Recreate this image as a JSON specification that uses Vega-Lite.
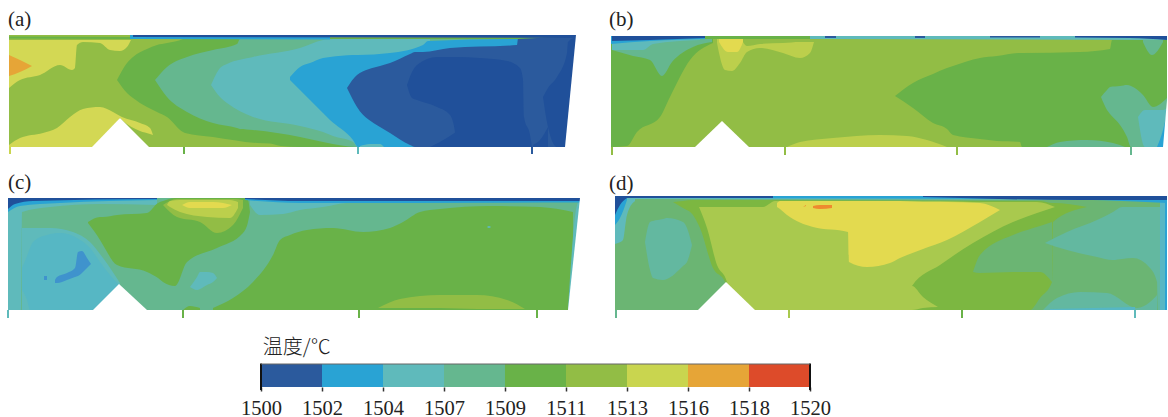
{"$schema":"https://vega.github.io/schema/vega-lite/v6.json","padding":0,"background":"white","config":{"view":{"stroke":null},"concat":{"spacing":0}},"spacing":0,
"datasets":{
"ticks":[{"p":"a","x":10,"y":147,"y2":154,"t":"1513"},{"p":"a","x":184,"y":147,"y2":154,"t":"1509"},{"p":"a","x":358,"y":147,"y2":154,"t":"1504"},{"p":"a","x":532,"y":147,"y2":154,"t":"1500"},{"p":"b","x":612,"y":147,"y2":155,"t":"1511"},{"p":"b","x":785,"y":147,"y2":155,"t":"1511"},{"p":"b","x":957,"y":147,"y2":155,"t":"1511"},{"p":"b","x":1131,"y":147,"y2":155,"t":"1507"},{"p":"c","x":8,"y":310,"y2":318,"t":"1504"},{"p":"c","x":183,"y":310,"y2":318,"t":"1509"},{"p":"c","x":359,"y":310,"y2":318,"t":"1509"},{"p":"c","x":537,"y":310,"y2":318,"t":"1509"},{"p":"d","x":616,"y":310,"y2":318,"t":"1507"},{"p":"d","x":789,"y":310,"y2":318,"t":"1511d"},{"p":"d","x":962,"y":310,"y2":318,"t":"1509"},{"p":"d","x":1135,"y":310,"y2":318,"t":"1504"}],
"legend":[{"i":0,"i2":1,"t":"1500","y":364,"y2":387},{"i":1,"i2":2,"t":"1502","y":364,"y2":387},{"i":2,"i2":3,"t":"1504","y":364,"y2":387},{"i":3,"i2":4,"t":"1507","y":364,"y2":387},{"i":4,"i2":5,"t":"1509","y":364,"y2":387},{"i":5,"i2":6,"t":"1511","y":364,"y2":387},{"i":6,"i2":7,"t":"1513","y":364,"y2":387},{"i":7,"i2":8,"t":"1516","y":364,"y2":387},{"i":8,"i2":9,"t":"1518","y":364,"y2":387}],
"a":[
{"s":1,"t":"1511","x":9,"y":35,"y2":147},{"s":1,"t":"1511","x":576,"y":35,"y2":147},
{"s":2,"t":"1513a","x":9,"y":40,"y2":88},{"s":2,"t":"1513a","x":20,"y":40,"y2":80},{"s":2,"t":"1513a","x":40,"y":40,"y2":75},{"s":2,"t":"1513a","x":60,"y":40,"y2":65},{"s":2,"t":"1513a","x":72,"y":40,"y2":70},{"s":2,"t":"1513a","x":75,"y":40,"y2":68},{"s":2,"t":"1513a","x":77,"y":40,"y2":45},{"s":2,"t":"1513a","x":83,"y":40,"y2":42},{"s":2,"t":"1513a","x":100,"y":40,"y2":43},{"s":2,"t":"1513a","x":110,"y":40,"y2":50},{"s":2,"t":"1513a","x":120,"y":40,"y2":51},{"s":2,"t":"1513a","x":127,"y":40,"y2":47},{"s":2,"t":"1513a","x":131,"y":40,"y2":40},
{"s":3,"t":"1516","x":9,"y":55,"y2":76},{"s":3,"t":"1516","x":20,"y":60,"y2":72},{"s":3,"t":"1516","x":32,"y":66,"y2":66},
{"s":4,"t":"1513a","x":9,"y":145,"y2":147},{"s":4,"t":"1513a","x":20,"y":138,"y2":147},{"s":4,"t":"1513a","x":43,"y":133,"y2":147},{"s":4,"t":"1513a","x":57,"y":128,"y2":147},{"s":4,"t":"1513a","x":70,"y":117,"y2":147},{"s":4,"t":"1513a","x":83,"y":109,"y2":147},{"s":4,"t":"1513a","x":100,"y":107,"y2":147},{"s":4,"t":"1513a","x":113,"y":112,"y2":147},{"s":4,"t":"1513a","x":120,"y":116,"y2":118},{"s":4,"t":"1513a","x":122,"y":117,"y2":120},{"s":4,"t":"1513a","x":140,"y":123,"y2":131},{"s":4,"t":"1513a","x":150,"y":128,"y2":134},{"s":4,"t":"1513a","x":153,"y":135,"y2":135},
{"s":5,"t":"1509","x":117,"y":80,"y2":80},{"s":5,"t":"1509","x":127,"y":63,"y2":93},{"s":5,"t":"1509","x":133,"y":57,"y2":98},{"s":5,"t":"1509","x":147,"y":49,"y2":107},{"s":5,"t":"1509","x":157,"y":45,"y2":112},{"s":5,"t":"1509","x":167,"y":43,"y2":117},{"s":5,"t":"1509","x":183,"y":39,"y2":132},{"s":5,"t":"1509","x":185,"y":38,"y2":133},{"s":5,"t":"1509","x":213,"y":38,"y2":137},{"s":5,"t":"1509","x":257,"y":38,"y2":143},{"s":5,"t":"1509","x":270,"y":38,"y2":143.5},{"s":5,"t":"1509","x":281,"y":38,"y2":146},{"s":5,"t":"1509","x":300,"y":38,"y2":147},{"s":5,"t":"1509","x":576,"y":38,"y2":147},
{"s":6,"t":"1507","x":155,"y":80,"y2":80},{"s":6,"t":"1507","x":167,"y":67,"y2":97},{"s":6,"t":"1507","x":187,"y":57,"y2":112},{"s":6,"t":"1507","x":213,"y":50,"y2":123},{"s":6,"t":"1507","x":237,"y":44,"y2":128},{"s":6,"t":"1507","x":240,"y":39,"y2":129},{"s":6,"t":"1507","x":253,"y":39,"y2":130},{"s":6,"t":"1507","x":300,"y":39,"y2":137},{"s":6,"t":"1507","x":323,"y":39,"y2":142},{"s":6,"t":"1507","x":357,"y":39,"y2":147},{"s":6,"t":"1507","x":576,"y":39,"y2":147},
{"s":7,"t":"1504","x":211,"y":85,"y2":85},{"s":7,"t":"1504","x":220,"y":68,"y2":97},{"s":7,"t":"1504","x":227,"y":64,"y2":103},{"s":7,"t":"1504","x":253,"y":57,"y2":117},{"s":7,"t":"1504","x":300,"y":48,"y2":126},{"s":7,"t":"1504","x":323,"y":40,"y2":132},{"s":7,"t":"1504","x":333,"y":39,"y2":136},{"s":7,"t":"1504","x":353,"y":39,"y2":142},{"s":7,"t":"1504","x":358,"y":39,"y2":147},{"s":7,"t":"1504","x":430,"y":39,"y2":147},
{"s":8,"t":"1502","x":290,"y":77,"y2":80},{"s":8,"t":"1502","x":300,"y":67,"y2":90},{"s":8,"t":"1502","x":310,"y":63,"y2":100},{"s":8,"t":"1502","x":323,"y":58,"y2":113},{"s":8,"t":"1502","x":330,"y":57,"y2":120},{"s":8,"t":"1502","x":353,"y":55,"y2":140},{"s":8,"t":"1502","x":358,"y":55,"y2":147},{"s":8,"t":"1502","x":390,"y":53,"y2":147},{"s":8,"t":"1502","x":423,"y":45,"y2":147},{"s":8,"t":"1502","x":428,"y":41,"y2":147},{"s":8,"t":"1502","x":517,"y":39,"y2":147},{"s":8,"t":"1502","x":520,"y":39,"y2":147},
{"s":9,"t":"1504","x":360,"y":146,"y2":147},{"s":9,"t":"1504","x":370,"y":144,"y2":147},{"s":9,"t":"1504","x":380,"y":144,"y2":147},{"s":9,"t":"1504","x":384,"y":147,"y2":147},
{"s":10,"t":"1500","x":347,"y":88,"y2":88},{"s":10,"t":"1500","x":357,"y":75,"y2":107},{"s":10,"t":"1500","x":380,"y":66,"y2":127},{"s":10,"t":"1500","x":390,"y":63,"y2":133},{"s":10,"t":"1500","x":410,"y":54,"y2":145},{"s":10,"t":"1500","x":415,"y":52,"y2":147},{"s":10,"t":"1500","x":423,"y":52,"y2":147},{"s":10,"t":"1500","x":450,"y":48,"y2":147},{"s":10,"t":"1500","x":517,"y":45,"y2":147},{"s":10,"t":"1500","x":518,"y":39,"y2":147},{"s":10,"t":"1500","x":576,"y":37,"y2":147},
{"s":11,"t":"deep","x":407,"y":85,"y2":85},{"s":11,"t":"deep","x":412,"y":72,"y2":98},{"s":11,"t":"deep","x":417,"y":65,"y2":100},{"s":11,"t":"deep","x":437,"y":57,"y2":107},{"s":11,"t":"deep","x":450,"y":57,"y2":115},{"s":11,"t":"deep","x":455,"y":57,"y2":132},{"s":11,"t":"deep","x":456,"y":57,"y2":147},{"s":11,"t":"deep","x":480,"y":58,"y2":147},{"s":11,"t":"deep","x":507,"y":61,"y2":147},{"s":11,"t":"deep","x":520,"y":68,"y2":147},{"s":11,"t":"deep","x":523,"y":80,"y2":147},{"s":11,"t":"deep","x":524,"y":117,"y2":147},{"s":11,"t":"deep","x":530,"y":135,"y2":147},{"s":11,"t":"deep","x":532,"y":147,"y2":147},
{"s":12,"t":"deep","x":430,"y":147,"y2":147},{"s":12,"t":"deep","x":440,"y":142,"y2":147},{"s":12,"t":"deep","x":456,"y":132,"y2":147},
{"s":13,"t":"deep","x":533,"y":145,"y2":147},{"s":13,"t":"deep","x":540,"y":140,"y2":147},{"s":13,"t":"deep","x":548,"y":127,"y2":147},
{"s":14,"t":"deep","x":543,"y":97,"y2":97},{"s":14,"t":"deep","x":548,"y":88,"y2":127},{"s":14,"t":"deep","x":557,"y":77,"y2":147},{"s":14,"t":"deep","x":567,"y":53,"y2":147},{"s":14,"t":"deep","x":568,"y":42,"y2":147},{"s":14,"t":"deep","x":576,"y":37,"y2":147},
{"s":15,"t":"1509","x":9,"y":36.5,"y2":38.5},{"s":15,"t":"1509","x":130,"y":37,"y2":39},
{"s":16,"t":"1502","x":130,"y":35,"y2":39},{"s":16,"t":"1502","x":330,"y":35,"y2":39.5},
{"s":17,"t":"deep","x":133,"y":35,"y2":37},{"s":17,"t":"deep","x":576,"y":35,"y2":38},
{"s":18,"t":"white","x":92,"y":147,"y2":147},{"s":18,"t":"white","x":120,"y":118,"y2":147},{"s":18,"t":"white","x":149,"y":147,"y2":147},
{"s":19,"t":"white","x":565,"y":147,"y2":147},{"s":19,"t":"white","x":576,"y":35,"y2":147},{"s":19,"t":"white","x":578,"y":35,"y2":147}],
"b":[
{"s":1,"t":"1511","x":611,"y":36,"y2":147},{"s":1,"t":"1511","x":1167,"y":36,"y2":147},
{"s":2,"t":"1509","x":611,"y":38,"y2":147},{"s":2,"t":"1509","x":627,"y":38,"y2":146},{"s":2,"t":"1509","x":637,"y":38,"y2":132},{"s":2,"t":"1509","x":660,"y":38,"y2":117},{"s":2,"t":"1509","x":670,"y":38,"y2":97},{"s":2,"t":"1509","x":690,"y":38,"y2":60},{"s":2,"t":"1509","x":713,"y":38,"y2":43},
{"s":3,"t":"1507","x":612,"y":39,"y2":50},{"s":3,"t":"1507","x":633,"y":39,"y2":56},{"s":3,"t":"1507","x":650,"y":39,"y2":60},{"s":3,"t":"1507","x":662,"y":39,"y2":76},{"s":3,"t":"1507","x":672,"y":39,"y2":62},{"s":3,"t":"1507","x":693,"y":39,"y2":47},{"s":3,"t":"1507","x":712,"y":39,"y2":42},
{"s":4,"t":"1504","x":612,"y":39,"y2":50},{"s":4,"t":"1504","x":643,"y":39,"y2":50},{"s":4,"t":"1504","x":653,"y":39,"y2":44},{"s":4,"t":"1504","x":700,"y":39,"y2":40},
{"s":5,"t":"1502","x":611,"y":36,"y2":44},{"s":5,"t":"1502","x":650,"y":36,"y2":41},{"s":5,"t":"1502","x":708,"y":36,"y2":39},
{"s":6,"t":"deep","x":612,"y":36,"y2":41},{"s":6,"t":"deep","x":650,"y":36,"y2":40},{"s":6,"t":"deep","x":705,"y":36,"y2":38},
{"s":7,"t":"1513b","x":717,"y":38,"y2":43},{"s":7,"t":"1513b","x":725,"y":38,"y2":70},{"s":7,"t":"1513b","x":732,"y":38,"y2":71},{"s":7,"t":"1513b","x":740,"y":39,"y2":63},{"s":7,"t":"1513b","x":747,"y":46,"y2":52},{"s":7,"t":"1513b","x":760,"y":44,"y2":48},{"s":7,"t":"1513b","x":783,"y":43,"y2":53},{"s":7,"t":"1513b","x":800,"y":42,"y2":58},{"s":7,"t":"1513b","x":810,"y":42,"y2":53},{"s":7,"t":"1513b","x":814,"y":42,"y2":42},
{"s":8,"t":"1513c","x":719,"y":38,"y2":42},{"s":8,"t":"1513c","x":728,"y":38,"y2":52},{"s":8,"t":"1513c","x":737,"y":38,"y2":52},{"s":8,"t":"1513c","x":743,"y":38,"y2":42},
{"s":9,"t":"1513b","x":787,"y":147,"y2":147},{"s":9,"t":"1513b","x":800,"y":142,"y2":147},{"s":9,"t":"1513b","x":833,"y":138,"y2":147},{"s":9,"t":"1513b","x":880,"y":135,"y2":147},{"s":9,"t":"1513b","x":907,"y":136,"y2":147},{"s":9,"t":"1513b","x":927,"y":140,"y2":147},{"s":9,"t":"1513b","x":947,"y":147,"y2":147},
{"s":10,"t":"1509","x":895,"y":96,"y2":96},{"s":10,"t":"1509","x":913,"y":83,"y2":108},{"s":10,"t":"1509","x":933,"y":74,"y2":123},{"s":10,"t":"1509","x":947,"y":68,"y2":129},{"s":10,"t":"1509","x":953,"y":66,"y2":135},{"s":10,"t":"1509","x":980,"y":58,"y2":139},{"s":10,"t":"1509","x":997,"y":56,"y2":141},{"s":10,"t":"1509","x":1020,"y":53,"y2":142},{"s":10,"t":"1509","x":1022,"y":53,"y2":147},{"s":10,"t":"1509","x":1080,"y":52,"y2":147},{"s":10,"t":"1509","x":1110,"y":49,"y2":147},{"s":10,"t":"1509","x":1112,"y":40,"y2":147},{"s":10,"t":"1509","x":1167,"y":40,"y2":147},
{"s":11,"t":"1507","x":1101,"y":97,"y2":97},{"s":11,"t":"1507","x":1107,"y":90,"y2":110},{"s":11,"t":"1507","x":1110,"y":87,"y2":114},{"s":11,"t":"1507","x":1120,"y":86,"y2":125},{"s":11,"t":"1507","x":1127,"y":85,"y2":137},{"s":11,"t":"1507","x":1131,"y":86,"y2":147},{"s":11,"t":"1507","x":1143,"y":95,"y2":147},{"s":11,"t":"1507","x":1153,"y":107,"y2":147},{"s":11,"t":"1507","x":1167,"y":98,"y2":147},
{"s":12,"t":"1507","x":1047,"y":147,"y2":147},{"s":12,"t":"1507","x":1060,"y":142,"y2":147},{"s":12,"t":"1507","x":1087,"y":140,"y2":147},{"s":12,"t":"1507","x":1113,"y":143,"y2":147},{"s":12,"t":"1507","x":1125,"y":147,"y2":147},
{"s":13,"t":"1507","x":1143,"y":40,"y2":42},{"s":13,"t":"1507","x":1152,"y":40,"y2":55},{"s":13,"t":"1507","x":1163,"y":40,"y2":42},
{"s":14,"t":"1504","x":1138,"y":117,"y2":117},{"s":14,"t":"1504","x":1145,"y":110,"y2":147},{"s":14,"t":"1504","x":1163,"y":110,"y2":147},{"s":14,"t":"1504","x":1167,"y":108,"y2":147},
{"s":15,"t":"1502","x":1157,"y":147,"y2":147},{"s":15,"t":"1502","x":1163,"y":130,"y2":147},{"s":15,"t":"1502","x":1167,"y":113,"y2":147},
{"s":16,"t":"1509","x":705,"y":36,"y2":39},{"s":16,"t":"1509","x":810,"y":36,"y2":39},
{"s":17,"t":"1504","x":810,"y":36,"y2":39},{"s":17,"t":"1504","x":1167,"y":36,"y2":40},
{"s":18,"t":"1500","x":825,"y":36,"y2":38},{"s":18,"t":"1500","x":836,"y":36,"y2":38},
{"s":19,"t":"1500","x":915,"y":36,"y2":38},{"s":19,"t":"1500","x":925,"y":36,"y2":38},
{"s":20,"t":"1500","x":990,"y":36,"y2":37.5},{"s":20,"t":"1500","x":1040,"y":36,"y2":37.5},
{"s":21,"t":"deep","x":1075,"y":36,"y2":37.5},{"s":21,"t":"deep","x":1130,"y":36,"y2":38},{"s":21,"t":"deep","x":1167,"y":36,"y2":40},
{"s":22,"t":"white","x":695,"y":147,"y2":147},{"s":22,"t":"white","x":722,"y":121,"y2":147},{"s":22,"t":"white","x":749,"y":147,"y2":147},
{"s":23,"t":"white","x":1163,"y":147,"y2":147},{"s":23,"t":"white","x":1167,"y":100,"y2":147},{"s":23,"t":"white","x":1168,"y":36,"y2":147}],
"c":[
{"s":1,"t":"1507","x":8,"y":198,"y2":310},{"s":1,"t":"1507","x":580,"y":198,"y2":310},
{"s":2,"t":"1504","x":8,"y":200,"y2":310},{"s":2,"t":"1504","x":21,"y":200,"y2":310},{"s":2,"t":"1504","x":22,"y":200,"y2":212},{"s":2,"t":"1504","x":50,"y":200,"y2":207},{"s":2,"t":"1504","x":100,"y":200,"y2":204},{"s":2,"t":"1504","x":157,"y":200,"y2":205},
{"s":3,"t":"1504","x":22,"y":228,"y2":310},{"s":3,"t":"1504","x":50,"y":228,"y2":310},{"s":3,"t":"1504","x":73,"y":232,"y2":310},{"s":3,"t":"1504","x":90,"y":242,"y2":310},{"s":3,"t":"1504","x":103,"y":258,"y2":310},{"s":3,"t":"1504","x":120,"y":283,"y2":310},
{"s":4,"t":"1504c","x":22,"y":268,"y2":290},{"s":4,"t":"1504c","x":27,"y":256,"y2":300},{"s":4,"t":"1504c","x":30,"y":248,"y2":310},{"s":4,"t":"1504c","x":33,"y":242,"y2":310},{"s":4,"t":"1504c","x":47,"y":235,"y2":310},{"s":4,"t":"1504c","x":60,"y":233,"y2":310},{"s":4,"t":"1504c","x":77,"y":238,"y2":310},{"s":4,"t":"1504c","x":90,"y":248,"y2":310},{"s":4,"t":"1504c","x":100,"y":262,"y2":310},{"s":4,"t":"1504c","x":110,"y":275,"y2":310},{"s":4,"t":"1504c","x":118,"y":284,"y2":310},
{"s":5,"t":"1502c","x":55,"y":280,"y2":283},{"s":5,"t":"1502c","x":57,"y":277,"y2":283},{"s":5,"t":"1502c","x":67,"y":273,"y2":280},{"s":5,"t":"1502c","x":75,"y":268,"y2":277},{"s":5,"t":"1502c","x":78,"y":252,"y2":276},{"s":5,"t":"1502c","x":82,"y":251,"y2":273},{"s":5,"t":"1502c","x":87,"y":258,"y2":268},{"s":5,"t":"1502c","x":91,"y":264,"y2":264},
{"s":6,"t":"1502c","x":44,"y":276,"y2":280},{"s":6,"t":"1502c","x":47,"y":276,"y2":280},
{"s":7,"t":"1509","x":88,"y":222,"y2":223},{"s":7,"t":"1509","x":100,"y":217,"y2":240},{"s":7,"t":"1509","x":103,"y":217,"y2":245},{"s":7,"t":"1509","x":117,"y":215,"y2":265},{"s":7,"t":"1509","x":147,"y":213,"y2":272},{"s":7,"t":"1509","x":158,"y":203,"y2":278},{"s":7,"t":"1509","x":163,"y":201,"y2":282},{"s":7,"t":"1509","x":175,"y":198,"y2":286},{"s":7,"t":"1509","x":187,"y":198,"y2":262},{"s":7,"t":"1509","x":217,"y":198,"y2":248},{"s":7,"t":"1509","x":243,"y":198,"y2":233},{"s":7,"t":"1509","x":248,"y":200,"y2":222},{"s":7,"t":"1509","x":250,"y":212,"y2":212},
{"s":8,"t":"1511","x":163,"y":205,"y2":205},{"s":8,"t":"1511","x":177,"y":199,"y2":217},{"s":8,"t":"1511","x":200,"y":199,"y2":222},{"s":8,"t":"1511","x":217,"y":199,"y2":233},{"s":8,"t":"1511","x":233,"y":199,"y2":225},{"s":8,"t":"1511","x":243,"y":200,"y2":208},
{"s":9,"t":"1513b","x":167,"y":205,"y2":205},{"s":9,"t":"1513b","x":170,"y":201,"y2":207},{"s":9,"t":"1513b","x":180,"y":200,"y2":212},{"s":9,"t":"1513b","x":207,"y":200,"y2":217},{"s":9,"t":"1513b","x":230,"y":200,"y2":218},{"s":9,"t":"1513b","x":238,"y":202,"y2":208},
{"s":10,"t":"1513c","x":182,"y":205,"y2":205},{"s":10,"t":"1513c","x":190,"y":202,"y2":208},{"s":10,"t":"1513c","x":213,"y":202,"y2":208},{"s":10,"t":"1513c","x":223,"y":203,"y2":208},{"s":10,"t":"1513c","x":232,"y":205,"y2":205},
{"s":11,"t":"1504","x":190,"y":287,"y2":287},{"s":11,"t":"1504","x":197,"y":277,"y2":290},{"s":11,"t":"1504","x":200,"y":272,"y2":289},{"s":11,"t":"1504","x":207,"y":272,"y2":285},{"s":11,"t":"1504","x":213,"y":273,"y2":282},{"s":11,"t":"1504","x":217,"y":278,"y2":278},
{"s":12,"t":"1504","x":250,"y":200,"y2":205},{"s":12,"t":"1504","x":260,"y":200,"y2":215},{"s":12,"t":"1504","x":283,"y":200,"y2":214},{"s":12,"t":"1504","x":300,"y":200,"y2":210},{"s":12,"t":"1504","x":323,"y":200,"y2":207},{"s":12,"t":"1504","x":347,"y":200,"y2":203},{"s":12,"t":"1504","x":390,"y":200,"y2":202},{"s":12,"t":"1504","x":580,"y":200,"y2":201},
{"s":13,"t":"1509","x":213,"y":308,"y2":310},{"s":13,"t":"1509","x":233,"y":298,"y2":310},{"s":13,"t":"1509","x":253,"y":282,"y2":310},{"s":13,"t":"1509","x":273,"y":255,"y2":310},{"s":13,"t":"1509","x":280,"y":240,"y2":310},{"s":13,"t":"1509","x":290,"y":235,"y2":310},{"s":13,"t":"1509","x":307,"y":230,"y2":310},{"s":13,"t":"1509","x":333,"y":228,"y2":310},{"s":13,"t":"1509","x":363,"y":232,"y2":310},{"s":13,"t":"1509","x":390,"y":228,"y2":310},{"s":13,"t":"1509","x":403,"y":222,"y2":310},{"s":13,"t":"1509","x":420,"y":212,"y2":310},{"s":13,"t":"1509","x":440,"y":209,"y2":310},{"s":13,"t":"1509","x":490,"y":206,"y2":310},{"s":13,"t":"1509","x":540,"y":207,"y2":310},{"s":13,"t":"1509","x":573,"y":212,"y2":310},
{"s":14,"t":"1511","x":378,"y":308,"y2":308},{"s":14,"t":"1511","x":400,"y":299,"y2":308},{"s":14,"t":"1511","x":440,"y":295,"y2":308},{"s":14,"t":"1511","x":477,"y":295,"y2":309},{"s":14,"t":"1511","x":507,"y":300,"y2":309},{"s":14,"t":"1511","x":525,"y":309,"y2":309},
{"s":15,"t":"1509","x":183,"y":310,"y2":310},{"s":15,"t":"1509","x":190,"y":306,"y2":310},{"s":15,"t":"1509","x":200,"y":308,"y2":310},
{"s":16,"t":"1504","x":487,"y":227,"y2":227},{"s":16,"t":"1504","x":489,"y":226,"y2":228},{"s":16,"t":"1504","x":491,"y":227,"y2":227},
{"s":17,"t":"1504","x":568,"y":310,"y2":310},{"s":17,"t":"1504","x":572,"y":250,"y2":310},{"s":17,"t":"1504","x":577,"y":205,"y2":310},{"s":17,"t":"1504","x":580,"y":200,"y2":310},
{"s":18,"t":"1502","x":8,"y":198,"y2":212},{"s":18,"t":"1502","x":20,"y":198,"y2":206},{"s":18,"t":"1502","x":60,"y":198,"y2":203},{"s":18,"t":"1502","x":157,"y":198,"y2":200},
{"s":19,"t":"deep","x":8,"y":198,"y2":209},{"s":19,"t":"deep","x":15,"y":198,"y2":204},{"s":19,"t":"deep","x":33,"y":198,"y2":201},{"s":19,"t":"deep","x":157,"y":198,"y2":199},
{"s":20,"t":"1502","x":245,"y":198,"y2":200},{"s":20,"t":"1502","x":300,"y":198,"y2":203},{"s":20,"t":"1502","x":580,"y":198,"y2":202.5},
{"s":21,"t":"deep","x":245,"y":198,"y2":199},{"s":21,"t":"deep","x":300,"y":198,"y2":201},{"s":21,"t":"deep","x":580,"y":198,"y2":201},
{"s":22,"t":"white","x":93,"y":310,"y2":310},{"s":22,"t":"white","x":119,"y":284,"y2":310},{"s":22,"t":"white","x":147,"y":310,"y2":310},
{"s":23,"t":"white","x":568,"y":310,"y2":310},{"s":23,"t":"white","x":580,"y":198,"y2":310},{"s":23,"t":"white","x":582,"y":198,"y2":310}],
"d":[
{"s":1,"t":"1507d","x":615,"y":196,"y2":310},{"s":1,"t":"1507d","x":1167,"y":196,"y2":310},
{"s":2,"t":"1504d","x":645,"y":242,"y2":242},{"s":2,"t":"1504d","x":650,"y":222,"y2":270},{"s":2,"t":"1504d","x":653,"y":221,"y2":278},{"s":2,"t":"1504d","x":663,"y":219,"y2":280},{"s":2,"t":"1504d","x":667,"y":218,"y2":279},{"s":2,"t":"1504d","x":683,"y":222,"y2":266},{"s":2,"t":"1504d","x":687,"y":228,"y2":262},{"s":2,"t":"1504d","x":692,"y":245,"y2":245},
{"s":3,"t":"1504","x":615,"y":196,"y2":244},{"s":3,"t":"1504","x":618,"y":196,"y2":243},{"s":3,"t":"1504","x":623,"y":196,"y2":240},{"s":3,"t":"1504","x":627,"y":196,"y2":215},{"s":3,"t":"1504","x":635,"y":196,"y2":201},
{"s":4,"t":"1502","x":615,"y":196,"y2":225},{"s":4,"t":"1502","x":620,"y":196,"y2":218},{"s":4,"t":"1502","x":627,"y":196,"y2":200},
{"s":5,"t":"deep","x":615,"y":196,"y2":215},{"s":5,"t":"deep","x":620,"y":196,"y2":205},{"s":5,"t":"deep","x":627,"y":196,"y2":198},
{"s":6,"t":"1509d","x":673,"y":202,"y2":202},{"s":6,"t":"1509d","x":683,"y":201,"y2":208},{"s":6,"t":"1509d","x":693,"y":200,"y2":215},{"s":6,"t":"1509d","x":700,"y":200,"y2":228},{"s":6,"t":"1509d","x":713,"y":200,"y2":268},{"s":6,"t":"1509d","x":725,"y":200,"y2":282},{"s":6,"t":"1509d","x":727,"y":200,"y2":310},{"s":6,"t":"1509d","x":1030,"y":201,"y2":310},{"s":6,"t":"1509d","x":1040,"y":201,"y2":298},{"s":6,"t":"1509d","x":1052,"y":203,"y2":282},{"s":6,"t":"1509d","x":1053,"y":203,"y2":222},{"s":6,"t":"1509d","x":1087,"y":207,"y2":207},
{"s":7,"t":"1507d","x":973,"y":272,"y2":272},{"s":7,"t":"1507d","x":980,"y":255,"y2":273},{"s":7,"t":"1507d","x":1013,"y":235,"y2":272},{"s":7,"t":"1507d","x":1040,"y":226,"y2":272},{"s":7,"t":"1507d","x":1052,"y":222,"y2":282},
{"s":8,"t":"1511d","x":699,"y":207,"y2":207},{"s":8,"t":"1511d","x":707,"y":207,"y2":228},{"s":8,"t":"1511d","x":717,"y":207,"y2":265},{"s":8,"t":"1511d","x":727,"y":207,"y2":282},{"s":8,"t":"1511d","x":728,"y":207,"y2":310},{"s":8,"t":"1511d","x":763,"y":207,"y2":310},{"s":8,"t":"1511d","x":775,"y":201,"y2":310},{"s":8,"t":"1511d","x":911,"y":201,"y2":310},{"s":8,"t":"1511d","x":912,"y":201,"y2":286},{"s":8,"t":"1511d","x":940,"y":201,"y2":265},{"s":8,"t":"1511d","x":973,"y":202,"y2":243},{"s":8,"t":"1511d","x":1013,"y":202,"y2":222},{"s":8,"t":"1511d","x":1037,"y":202,"y2":213},{"s":8,"t":"1511d","x":1055,"y":207,"y2":207},
{"s":9,"t":"1511d","x":905,"y":286,"y2":310},{"s":9,"t":"1511d","x":912,"y":286,"y2":310},{"s":9,"t":"1511d","x":923,"y":297,"y2":308},{"s":9,"t":"1511d","x":938,"y":307,"y2":307},
{"s":10,"t":"1513c","x":777,"y":203,"y2":207},{"s":10,"t":"1513c","x":780,"y":201,"y2":209},{"s":10,"t":"1513c","x":787,"y":201,"y2":215},{"s":10,"t":"1513c","x":813,"y":201,"y2":227},{"s":10,"t":"1513c","x":848,"y":201,"y2":232},{"s":10,"t":"1513c","x":849,"y":201,"y2":262},{"s":10,"t":"1513c","x":867,"y":201,"y2":267},{"s":10,"t":"1513c","x":890,"y":201,"y2":263},{"s":10,"t":"1513c","x":900,"y":201,"y2":258},{"s":10,"t":"1513c","x":923,"y":202,"y2":249},{"s":10,"t":"1513c","x":947,"y":202,"y2":240},{"s":10,"t":"1513c","x":980,"y":203,"y2":222},{"s":10,"t":"1513c","x":1000,"y":210,"y2":210},
{"s":11,"t":"1516d","x":813,"y":206,"y2":208},{"s":11,"t":"1516d","x":820,"y":205,"y2":209},{"s":11,"t":"1516d","x":832,"y":205,"y2":208},
{"s":12,"t":"1516d","x":803,"y":207,"y2":207},{"s":12,"t":"1516d","x":806,"y":205,"y2":206},
{"s":13,"t":"1504d","x":1045,"y":243,"y2":243},{"s":13,"t":"1504d","x":1067,"y":232,"y2":250},{"s":13,"t":"1504d","x":1097,"y":220,"y2":257},{"s":13,"t":"1504d","x":1113,"y":212,"y2":260},{"s":13,"t":"1504d","x":1122,"y":207,"y2":259},{"s":13,"t":"1504d","x":1133,"y":207,"y2":258},{"s":13,"t":"1504d","x":1150,"y":207,"y2":268},{"s":13,"t":"1504d","x":1157,"y":207,"y2":282},{"s":13,"t":"1504d","x":1158,"y":207,"y2":310},{"s":13,"t":"1504d","x":1167,"y":207,"y2":310},
{"s":14,"t":"1504d","x":1043,"y":310,"y2":310},{"s":14,"t":"1504d","x":1057,"y":298,"y2":310},{"s":14,"t":"1504d","x":1080,"y":292,"y2":310},{"s":14,"t":"1504d","x":1107,"y":293,"y2":310},{"s":14,"t":"1504d","x":1137,"y":308,"y2":310},{"s":14,"t":"1504d","x":1150,"y":302,"y2":310},{"s":14,"t":"1504d","x":1157,"y":295,"y2":310},
{"s":15,"t":"1504c","x":1050,"y":309,"y2":310},{"s":15,"t":"1504c","x":1135,"y":307,"y2":310},
{"s":16,"t":"1504c","x":1160,"y":200,"y2":310},{"s":16,"t":"1504c","x":1167,"y":200,"y2":310},
{"s":17,"t":"1502","x":1165,"y":200,"y2":310},{"s":17,"t":"1502","x":1167,"y":200,"y2":310},
{"s":18,"t":"1504","x":627,"y":196,"y2":199},{"s":18,"t":"1504","x":1167,"y":196,"y2":200},
{"s":19,"t":"1502","x":627,"y":196,"y2":198},{"s":19,"t":"1502","x":1040,"y":196,"y2":199},{"s":19,"t":"1502","x":1167,"y":196,"y2":203},
{"s":20,"t":"deep","x":620,"y":196,"y2":198},{"s":20,"t":"deep","x":773,"y":196,"y2":198},
{"s":21,"t":"deep","x":923,"y":196,"y2":197},{"s":21,"t":"deep","x":1080,"y":196,"y2":200},{"s":21,"t":"deep","x":1167,"y":196,"y2":200},
{"s":22,"t":"white","x":698,"y":310,"y2":310},{"s":22,"t":"white","x":726,"y":282,"y2":310},{"s":22,"t":"white","x":755,"y":310,"y2":310}]
},
"vconcat":[
{"hconcat":[
{"width":595,"height":165,"encoding":{"x":{"field":"x","type":"quantitative","scale":{"domain":[0,595],"nice":false,"zero":false},"axis":null},"y":{"field":"y","type":"quantitative","stack":null,"scale":{"domain":[165,0],"nice":false,"zero":false},"axis":null}},"layer":[
{"data":{"name":"a"},"transform":[{"filter":"datum.t!='white'"}],"mark":{"type":"area","orient":"vertical","interpolate":"monotone"},"encoding":{"y2":{"field":"y2"},"detail":{"field":"s","type":"nominal"},"color":{"field":"t","type":"nominal","legend":null,"scale":{"domain":["deep","1500","1502","1504","1507","1509","1511","1513","1516","1518","1513a","1513b","1513c","1511d","1509d","1507d","1504d","1504c","1502c","1516d","white"],"range":["#20509a","#2b5a9d","#29a3d4","#5fbabb","#65b78f","#69b248","#92bd45","#c9d54f","#e6a537","#dd4b2a","#d3d854","#bccf4c","#e3da4f","#a9c94e","#7cb741","#6bb573","#63b8a0","#56b7c4","#3f93cd","#ee8a2f","#ffffff"]}}}},
{"data":{"name":"a"},"transform":[{"filter":"datum.t=='white'"}],"mark":{"type":"area","orient":"vertical"},"encoding":{"y2":{"field":"y2"},"detail":{"field":"s","type":"nominal"},"color":{"field":"t","type":"nominal","legend":null}}},
{"data":{"name":"ticks"},"transform":[{"filter":"datum.p=='a'"}],"mark":{"type":"rule","strokeWidth":2},"encoding":{"y2":{"field":"y2"},"color":{"field":"t","type":"nominal"}}},
{"data":{"values":[{"x":8,"y":26,"l":"(a)"}]},"mark":{"type":"text","font":"Liberation Serif","fontSize":21,"align":"left","baseline":"alphabetic","color":"#222"},"encoding":{"text":{"field":"l"}}}]},
{"width":573,"height":165,"encoding":{"x":{"field":"x","type":"quantitative","scale":{"domain":[595,1168],"nice":false,"zero":false},"axis":null},"y":{"field":"y","type":"quantitative","stack":null,"scale":{"domain":[165,0],"nice":false,"zero":false},"axis":null}},"layer":[
{"data":{"name":"b"},"transform":[{"filter":"datum.t!='white'"}],"mark":{"type":"area","orient":"vertical","interpolate":"monotone"},"encoding":{"y2":{"field":"y2"},"detail":{"field":"s","type":"nominal"},"color":{"field":"t","type":"nominal","legend":null}}},
{"data":{"name":"b"},"transform":[{"filter":"datum.t=='white'"}],"mark":{"type":"area","orient":"vertical"},"encoding":{"y2":{"field":"y2"},"detail":{"field":"s","type":"nominal"},"color":{"field":"t","type":"nominal","legend":null}}},
{"data":{"name":"ticks"},"transform":[{"filter":"datum.p=='b'"}],"mark":{"type":"rule","strokeWidth":2},"encoding":{"y2":{"field":"y2"},"color":{"field":"t","type":"nominal"}}},
{"data":{"values":[{"x":609,"y":26,"l":"(b)"}]},"mark":{"type":"text","font":"Liberation Serif","fontSize":21,"align":"left","baseline":"alphabetic","color":"#222"},"encoding":{"text":{"field":"l"}}}]}
]},
{"hconcat":[
{"width":595,"height":160,"encoding":{"x":{"field":"x","type":"quantitative","scale":{"domain":[0,595],"nice":false,"zero":false},"axis":null},"y":{"field":"y","type":"quantitative","stack":null,"scale":{"domain":[325,165],"nice":false,"zero":false},"axis":null}},"layer":[
{"data":{"name":"c"},"transform":[{"filter":"datum.t!='white'"}],"mark":{"type":"area","orient":"vertical","interpolate":"monotone"},"encoding":{"y2":{"field":"y2"},"detail":{"field":"s","type":"nominal"},"color":{"field":"t","type":"nominal","legend":null}}},
{"data":{"name":"c"},"transform":[{"filter":"datum.t=='white'"}],"mark":{"type":"area","orient":"vertical"},"encoding":{"y2":{"field":"y2"},"detail":{"field":"s","type":"nominal"},"color":{"field":"t","type":"nominal","legend":null}}},
{"data":{"name":"ticks"},"transform":[{"filter":"datum.p=='c'"}],"mark":{"type":"rule","strokeWidth":2},"encoding":{"y2":{"field":"y2"},"color":{"field":"t","type":"nominal"}}},
{"data":{"values":[{"x":8,"y":189,"l":"(c)"}]},"mark":{"type":"text","font":"Liberation Serif","fontSize":21,"align":"left","baseline":"alphabetic","color":"#222"},"encoding":{"text":{"field":"l"}}}]},
{"width":573,"height":160,"encoding":{"x":{"field":"x","type":"quantitative","scale":{"domain":[595,1168],"nice":false,"zero":false},"axis":null},"y":{"field":"y","type":"quantitative","stack":null,"scale":{"domain":[325,165],"nice":false,"zero":false},"axis":null}},"layer":[
{"data":{"name":"d"},"transform":[{"filter":"datum.t!='white'"}],"mark":{"type":"area","orient":"vertical","interpolate":"monotone"},"encoding":{"y2":{"field":"y2"},"detail":{"field":"s","type":"nominal"},"color":{"field":"t","type":"nominal","legend":null}}},
{"data":{"name":"d"},"transform":[{"filter":"datum.t=='white'"}],"mark":{"type":"area","orient":"vertical"},"encoding":{"y2":{"field":"y2"},"detail":{"field":"s","type":"nominal"},"color":{"field":"t","type":"nominal","legend":null}}},
{"data":{"name":"ticks"},"transform":[{"filter":"datum.p=='d'"}],"mark":{"type":"rule","strokeWidth":2},"encoding":{"y2":{"field":"y2"},"color":{"field":"t","type":"nominal"}}},
{"data":{"values":[{"x":609,"y":190,"l":"(d)"}]},"mark":{"type":"text","font":"Liberation Serif","fontSize":21,"align":"left","baseline":"alphabetic","color":"#222"},"encoding":{"text":{"field":"l"}}}]}
]},
{"width":1168,"height":62,"encoding":{"x":{"field":"i","type":"quantitative","scale":{"domain":[-4.2787,14.8689],"nice":false,"zero":false},"axis":{"values":[0,1,2,3,4,5,6,7,8,9],"grid":false,"domain":false,"title":null,"ticks":true,"tickSize":4,"tickColor":"#333","tickWidth":1.5,"labelFont":"Liberation Serif","labelFontSize":20.5,"labelColor":"#222","labelPadding":7,"labelExpr":"['1500','1502','1504','1507','1509','1511','1513','1516','1518','1520'][datum.value]"}},"y":{"field":"y","type":"quantitative","scale":{"domain":[387,325],"nice":false,"zero":false},"axis":null}},"layer":[
{"data":{"name":"legend"},"mark":{"type":"rect"},"encoding":{"x2":{"field":"i2"},"y2":{"field":"y2"},"color":{"field":"t","type":"nominal","legend":null}}},
{"data":{"values":[{"i":0,"y":363.5,"y2":390},{"i":9,"y":363.5,"y2":390}]},"mark":{"type":"rule","color":"#111","strokeWidth":2},"encoding":{"y2":{"field":"y2"}}},
{"data":{"values":[{"i":0,"i2":9,"y":364}]},"mark":{"type":"rule","color":"#666","strokeWidth":1},"encoding":{"x2":{"field":"i2"}}},
{"data":{"values":[{"i":0.03,"y":354,"l":"温度/℃"}]},"mark":{"type":"text","font":"Noto Sans CJK SC","fontWeight":300,"fontSize":20,"align":"left","baseline":"alphabetic","color":"#222"},"encoding":{"text":{"field":"l"}}}]}
]}
